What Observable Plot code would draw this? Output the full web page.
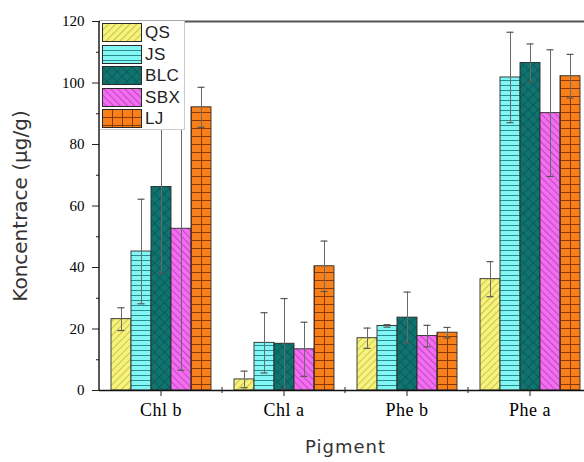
<!DOCTYPE html>
<html><head><meta charset="utf-8">
<script src="https://cdn.jsdelivr.net/npm/d3@7"></script>
<script src="https://cdn.jsdelivr.net/npm/@observablehq/plot@0.6"></script>
<style>
html,body{margin:0;padding:0;background:#fff;overflow:hidden}
#wrap{position:relative;width:584px;height:462px}
#wrap svg.plot text{fill:#222}
g[aria-label="y-axis label"] text{font-family:"DejaVu Sans",sans-serif;font-size:20px;fill:#333}
g[aria-label="fx-axis label"] text{font-family:"DejaVu Sans",sans-serif;font-size:18px;letter-spacing:1px;fill:#333}
g[aria-label="fx-axis tick label"] text{font-size:18px;letter-spacing:0.5px}
#legend{position:absolute;left:100px;top:21px;width:84px;height:108px;background:#fff;border-right:1px solid #ccc;border-bottom:1px solid #ccc;font-family:"Liberation Sans",Arial,sans-serif;font-size:17px;letter-spacing:0.4px;color:#222}
#legend .row{position:absolute;left:2px;height:19px;display:flex;align-items:center}
#legend .row span{margin-left:3px;line-height:19px}
</style></head><body>
<svg width="0" height="0" style="position:absolute">
<defs>
<pattern id="pat-QS" patternUnits="userSpaceOnUse" width="5" height="5" patternTransform="rotate(45)">
<rect width="5" height="5" fill="#f6f27c"/><line x1="0" y1="0" x2="0" y2="5" stroke="#a89c2c" stroke-width="1.1"/></pattern>
<pattern id="pat-JS" patternUnits="userSpaceOnUse" width="10" height="5">
<rect width="10" height="5" fill="#82f6f4"/><line x1="0" y1="0.5" x2="10" y2="0.5" stroke="#2a8c8c" stroke-width="1"/></pattern>
<pattern id="pat-BLC" patternUnits="userSpaceOnUse" width="7" height="7" patternTransform="rotate(45)">
<rect width="7" height="7" fill="#0f7470"/><line x1="0" y1="0" x2="0" y2="7" stroke="#084544" stroke-width="1"/><line x1="0" y1="0" x2="7" y2="0" stroke="#084544" stroke-width="1"/></pattern>
<pattern id="pat-SBX" patternUnits="userSpaceOnUse" width="5" height="5" patternTransform="rotate(-45)">
<rect width="5" height="5" fill="#f26df0"/><line x1="0" y1="0" x2="0" y2="5" stroke="#9a2898" stroke-width="1.1"/></pattern>
<pattern id="pat-LJ" patternUnits="userSpaceOnUse" width="10" height="8">
<rect width="10" height="8" fill="#f7801a"/><line x1="0.5" y1="0" x2="0.5" y2="8" stroke="#8a3808" stroke-width="1"/><line x1="0" y1="0.5" x2="10" y2="0.5" stroke="#8a3808" stroke-width="1"/></pattern>
</defs></svg>
<div id="wrap"></div>
<script>
const pigments = ["Chl b", "Chl a", "Phe b", "Phe a"];
const samples = ["QS", "JS", "BLC", "SBX", "LJ"];
// values per pigment (Chl b, Chl a, Phe b, Phe a)
const QS  = [23.2, 3.6, 17.0, 36.2];
const JS  = [45.2, 15.5, 21.0, 101.8];
const BLC = [66.2, 15.2, 23.7, 106.5];
const SBX = [52.6, 13.4, 17.7, 90.2];
const LJ  = [92.1, 40.4, 18.8, 102.2];
// standard deviations
const QS_err  = [3.7, 2.7, 3.3, 5.7];
const JS_err  = [17.0, 9.8, 0.4, 14.7];
const BLC_err = [28.0, 14.7, 8.3, 6.2];
const SBX_err = [46.0, 8.8, 3.5, 20.6];
const LJ_err  = [6.5, 8.2, 1.7, 7.1];
const yTicks = [0, 20, 40, 60, 80, 100, 120];
const yMinorTicks = [10, 30, 50, 70, 90, 110];

const series = {QS, JS, BLC, SBX, LJ};
const errs = {QS: QS_err, JS: JS_err, BLC: BLC_err, SBX: SBX_err, LJ: LJ_err};
const rows = [];
pigments.forEach((p, i) => samples.forEach(s => rows.push({pigment: p, sample: s, value: series[s][i], err: errs[s][i]})));

const chart = Plot.plot({
  width: 584, height: 462,
  marginLeft: 98, marginRight: -8, marginTop: 21, marginBottom: 72,
  style: {fontFamily: "'Liberation Serif', 'Times New Roman', serif", fontSize: "15px", background: "transparent", overflow: "visible"},
  fx: {domain: pigments, padding: 0, label: "Pigment"},
  x: {domain: samples, paddingInner: 0, paddingOuter: 0.57, axis: null},
  y: {domain: [0, 120], label: "Koncentrace (μg/g)"},
  color: {domain: samples, range: samples.map(s => `url(#pat-${s})`)},
  marks: [
    Plot.barY(rows, {fx: "pigment", x: "sample", y: "value", fill: "sample", stroke: "#2a2a2a", strokeWidth: 0.9}),
    Plot.ruleX(rows, {fx: "pigment", x: "sample", y1: d => d.value - d.err, y2: d => d.value + d.err, stroke: "#6a6a6a", strokeWidth: 1}),
    Plot.tickY(rows, {fx: "pigment", x: "sample", y: d => d.value + d.err, insetLeft: 6.5, insetRight: 6.5, stroke: "#555", strokeWidth: 1.2}),
    Plot.tickY(rows, {fx: "pigment", x: "sample", y: d => d.value - d.err, insetLeft: 6.5, insetRight: 6.5, stroke: "#555", strokeWidth: 1.2}),
    Plot.ruleY([0], {stroke: "#111", strokeWidth: 1.4}),
    Plot.ruleY([120], {stroke: "#555", strokeWidth: 1.8}),
    Plot.axisY({ticks: yMinorTicks, tickFormat: () => "", tickSize: 3, label: null, stroke: "#222"}),
    Plot.axisY({ticks: yTicks, tickSize: 7, tickPadding: 8, label: "Koncentrace (μg/g)", labelAnchor: "center", labelOffset: 87, labelArrow: "none", stroke: "#222"}),
    Plot.axisFx({anchor: "bottom", tickSize: 6, tickPadding: 7, label: "Pigment", labelAnchor: "center", labelOffset: 62, labelArrow: "none", stroke: "#222"})
  ]
});
document.getElementById("wrap").appendChild(chart);

// left axis line and minor x ticks at pigment boundaries, from Plot's own scales
const fx = chart.scale("fx"), y = chart.scale("y");
const svg = d3.select(chart);
const x0 = fx.apply(pigments[0]);
svg.append("line").attr("x1", x0).attr("x2", x0).attr("y1", y.apply(0)).attr("y2", y.apply(120)).attr("stroke", "#111").attr("stroke-width", 1.4);
pigments.slice(1).forEach(p => {
  const xb = fx.apply(p);
  svg.append("line").attr("x1", xb).attr("x2", xb).attr("y1", y.apply(0) - 3).attr("y2", y.apply(0) + 3).attr("stroke", "#222");
});

// legend
const legend = document.createElement("div");
legend.id = "legend";
samples.forEach((s, i) => {
  const row = document.createElement("div");
  row.className = "row";
  row.style.top = (2 + i * 21.5) + "px";
  row.innerHTML = `<svg width="40" height="19"><rect x="0.5" y="0.5" width="39" height="18" fill="url(#pat-${s})" stroke="#2a2a2a" stroke-width="1"/></svg><span>${s}</span>`;
  legend.appendChild(row);
});
document.getElementById("wrap").appendChild(legend);
</script>
</body></html>
